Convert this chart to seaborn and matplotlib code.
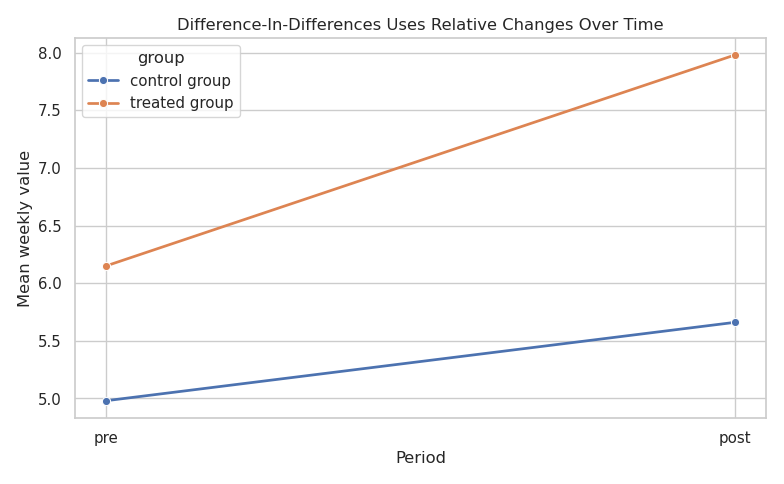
import pandas as pd
import matplotlib
matplotlib.use("Agg")
import matplotlib.pyplot as plt
import seaborn as sns

periods = ["pre", "post", "pre", "post"]
groups = ["control group", "control group", "treated group", "treated group"]
values = [4.98, 5.66, 6.15, 7.98]

df = pd.DataFrame({"period": periods, "group": groups, "value": values})

sns.set_theme(style="whitegrid")
fig, ax = plt.subplots(figsize=(8, 4.94), dpi=98)
sns.lineplot(data=df, x="period", y="value", hue="group", marker="o",
             linewidth=2, ax=ax)
ax.set_title("Difference-In-Differences Uses Relative Changes Over Time")
ax.set_xlabel("Period")
ax.set_ylabel("Mean weekly value")
fig.tight_layout()
fig.savefig("out.png", dpi=98)
